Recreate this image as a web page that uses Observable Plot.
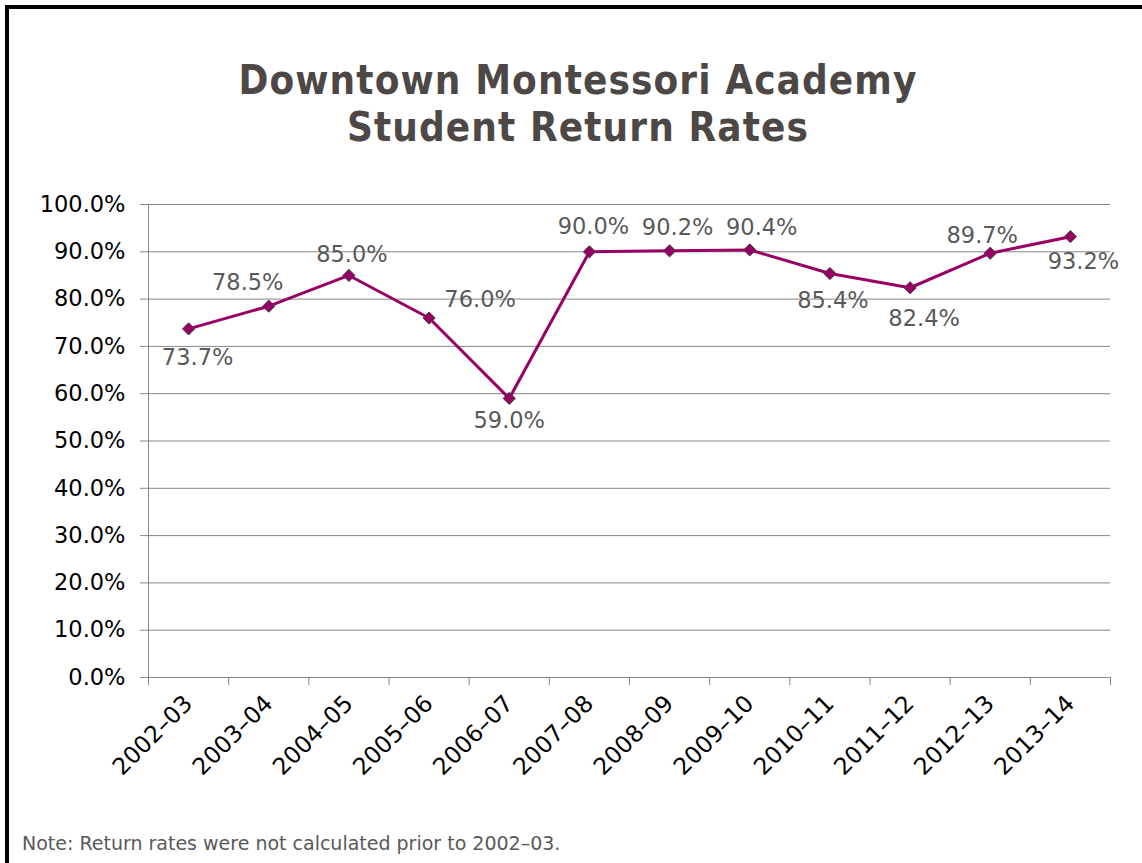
<!DOCTYPE html>
<html><head><meta charset="utf-8">
<script src="https://cdn.jsdelivr.net/npm/d3@7"></script>
<script src="https://cdn.jsdelivr.net/npm/@observablehq/plot@0.6"></script>
<style>
html,body{margin:0;padding:0;background:#fff}
body{width:1142px;height:863px;overflow:hidden;position:relative;font-family:"DejaVu Sans",sans-serif}
#frame{position:absolute;left:5px;top:5px;width:1150px;height:870px;border-top:4px solid #000;border-left:4px solid #000}
#title{position:absolute;left:0;width:1156px;top:57px;text-align:center;font-weight:bold;font-size:40px;line-height:47px;letter-spacing:1.1px;color:#4d4845;font-family:"DejaVu Sans Condensed","DejaVu Sans",sans-serif}
#note{position:absolute;left:22px;top:832px;font-size:19px;color:#595959}
#chart{position:absolute;left:0;top:160px}
</style></head>
<body>
<div id="frame"></div>
<div id="title">Downtown Montessori Academy<br>Student Return Rates</div>
<div id="chart"></div>
<div id="note">Note: Return rates were not calculated prior to 2002–03.</div>
<script>
const categories = ["2002–03","2003–04","2004–05","2005–06","2006–07","2007–08","2008–09","2009–10","2010–11","2011–12","2012–13","2013–14"];
const values = [73.7, 78.5, 85.0, 76.0, 59.0, 90.0, 90.2, 90.4, 85.4, 82.4, 89.7, 93.2];
const yTicks = [0, 10, 20, 30, 40, 50, 60, 70, 80, 90, 100];

const data = categories.map((c, i) => ({cat: c, x: i + 0.5, v: values[i]}));
const boundaries = d3.range(categories.length + 1);
const centers = categories.map((c, i) => i + 0.5);

// label placement (layout only)
const labelOffsets = [[9,29],[-21,-23],[3,-21],[51,-18],[0,22],[4,-25],[8,-23],[12,-22],[3,27],[14,31],[-8,-17],[13,25]];

const gridColor = "#868686";
const lineColor = "#990066";

const labelMarks = data.map((d, i) => Plot.text([d], {
  x: "x", y: "v", text: d => d.v.toFixed(1) + "%",
  dx: labelOffsets[i][0], dy: labelOffsets[i][1],
  fill: "#595959", fontSize: 22.5
}));

const chart = Plot.plot({
  width: 1142,
  height: 700,
  marginLeft: 148,
  marginRight: 32,
  marginTop: 44,
  marginBottom: 183,
  style: {fontFamily: "'DejaVu Sans', sans-serif", background: "transparent", overflow: "visible"},
  x: {type: "linear", domain: [0, categories.length]},
  y: {domain: [0, 100]},
  marks: [
    Plot.gridY(yTicks, {stroke: gridColor, strokeOpacity: 1, strokeWidth: 1}),
    Plot.ruleX([0], {y1: 0, y2: 100, stroke: gridColor, strokeWidth: 1}),
    Plot.axisY(yTicks, {tickSize: 8, tickPadding: 15, tickFormat: d => d.toFixed(1) + "%", fontSize: 22.5, stroke: gridColor, fill: "#000", label: null}),
    Plot.axisX(boundaries, {tickSize: 8, tickFormat: () => "", stroke: gridColor, label: null}),
    Plot.axisX(centers, {tickSize: 0, tickPadding: 22, tickRotate: -45, tickFormat: d => categories[Math.floor(d)], fontSize: 23.5, fill: "#000", label: null}),
    Plot.line(data, {x: "x", y: "v", stroke: lineColor, strokeWidth: 3}),
    Plot.dot(data, {x: "x", y: "v", symbol: "diamond2", r: 5.5, fill: lineColor, stroke: "#404040", strokeWidth: 1}),
    ...labelMarks
  ]
});
document.getElementById("chart").appendChild(chart);
</script>
</body></html>
